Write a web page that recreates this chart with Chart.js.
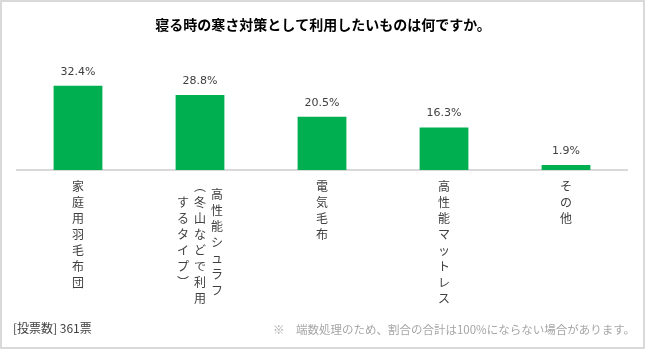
<!DOCTYPE html>
<html>
<head>
<meta charset="utf-8">
<script src="https://cdn.jsdelivr.net/npm/chart.js@4.4.1/dist/chart.umd.min.js"></script>
<style>
  html, body { margin: 0; padding: 0; background: #ffffff; }
  #wrap { position: relative; width: 647px; height: 349px; }
  canvas { display: block; }
</style>
</head>
<body>
<div id="wrap"><canvas id="chart" width="647" height="349"></canvas></div>
<script>
// Survey: what do you want to use against the cold while sleeping?
const titleText = '寝る時の寒さ対策として利用したいものは何ですか。';
// Category labels; '\n' separates vertical columns (first column drawn rightmost)
const categories = [
  '家庭用羽毛布団',
  '高性能シュラフ\n（冬山などで利用\nするタイプ）',
  '電気毛布',
  '高性能マットレス',
  'その他'
];
const shares = [32.4, 28.8, 20.5, 16.3, 1.9];
const voteNote = '[投票数] 361票';
const roundingNote = '※　端数処理のため、割合の合計は100%にならない場合があります。';

const CJK = '"Noto Sans CJK JP", "Noto Sans", sans-serif';
const TEXT_GREY = '#404040';

// Vertical presentation forms for brackets in tategaki text
const verticalForms = { '（': '︵', '）': '︶', '(': '︵', ')': '︶' };

const decorations = {
  id: 'decorations',
  beforeDraw(chart) {
    const ctx = chart.ctx;
    ctx.save();
    ctx.fillStyle = '#ffffff';
    ctx.fillRect(0, 0, chart.width, chart.height);
    // light frame around the whole graphic
    ctx.strokeStyle = '#D9D9D9';
    ctx.lineWidth = 2;
    ctx.strokeRect(1, 1, chart.width - 4, chart.height - 2);
    ctx.restore();
  },
  afterDraw(chart) {
    const ctx = chart.ctx;
    const xScale = chart.scales.x;
    ctx.save();

    // title
    ctx.fillStyle = '#000000';
    ctx.font = 'bold 14px ' + CJK;
    ctx.textAlign = 'center';
    ctx.textBaseline = 'middle';
    ctx.fillText(titleText, 323, 25);

    // value labels above each bar
    const meta = chart.getDatasetMeta(0);
    ctx.font = '11px "DejaVu Sans", sans-serif';
    ctx.fillStyle = TEXT_GREY;
    meta.data.forEach((bar, i) => {
      ctx.fillText(shares[i].toFixed(1) + '%', bar.x, bar.y - 14);
    });

    // vertical category labels below the axis
    const step = 16.1, colGap = 17, top = 186;
    ctx.font = '12px ' + CJK;
    categories.forEach((label, i) => {
      const cx = xScale.getPixelForValue(i);
      const cols = label.split('\n');
      const longest = Math.max(...cols.map(c => Array.from(c).length));
      cols.forEach((col, k) => {
        const chars = Array.from(col);
        const x = cx + ((cols.length - 1) / 2 - k) * colGap;
        const y0 = top + (longest - chars.length) * step / 2;
        chars.forEach((ch, j) => {
          ctx.fillText(verticalForms[ch] || ch, x, y0 + j * step);
        });
      });
    });

    // footer notes
    ctx.textAlign = 'left';
    ctx.font = '12px ' + CJK;
    ctx.fillStyle = TEXT_GREY;
    ctx.fillText(voteNote, 13, 328);
    ctx.textAlign = 'right';
    ctx.font = '11.5px ' + CJK;
    ctx.fillStyle = '#A6A6A6';
    ctx.fillText(roundingNote, 635, 330);

    ctx.restore();
  }
};

new Chart(document.getElementById('chart'), {
  type: 'bar',
  data: {
    labels: categories,
    datasets: [{
      data: shares,
      backgroundColor: '#00B050',
      borderWidth: 0,
      categoryPercentage: 1,
      barPercentage: 0.4
    }]
  },
  options: {
    responsive: false,
    animation: false,
    devicePixelRatio: 1,
    layout: { padding: { top: 66, bottom: 179, left: 17, right: 20 } },
    plugins: {
      legend: { display: false },
      tooltip: { enabled: false }
    },
    scales: {
      x: {
        grid: { display: false, drawTicks: false },
        border: { display: true, color: '#D9D9D9', width: 2 },
        ticks: { display: false }
      },
      y: {
        display: false,
        min: 0,
        max: 40
      }
    }
  },
  plugins: [decorations]
});
</script>
</body>
</html>
